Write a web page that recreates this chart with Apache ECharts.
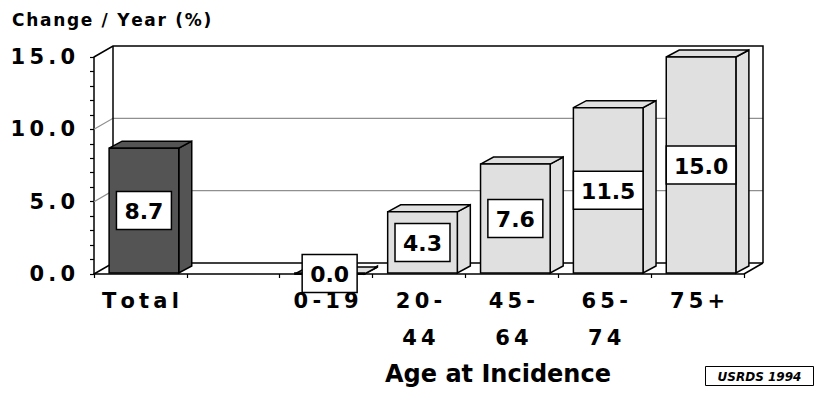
<!DOCTYPE html>
<html>
<head>
<meta charset="utf-8">
<script src="https://cdn.jsdelivr.net/npm/echarts@6/dist/echarts.min.js"></script>
<style>
  html, body { margin: 0; padding: 0; background: #ffffff; }
  #chart { width: 816px; height: 405px; }
</style>
</head>
<body>
<div id="chart"></div>
<script>
// Age groups along the floor (second slot is an intentional gap after "Total")
const categories = ['Total', '', '0-19', '20-\n44', '45-\n64', '65-\n74', '75+'];
// Annual change in incidence, percent per year
const changePerYear = [8.7, null, 0.0, 4.3, 7.6, 11.5, 15.0];
// Value axis labels and back-wall gridlines
const yTicks = [0, 5, 10, 15];
const wallGridValues = [5, 10];

const FONT = '"DejaVu Sans", "Liberation Sans", sans-serif';
const THIN = '\u2009';
const HAIR = '\u200A';
const spaced = s => s.split('\n').map(l => l.split('').join(THIN)).join('\n');

const DARK = '#545454';
const LIGHT = '#e0e0e0';
const WALL_DX = 19, WALL_DY = 11;   // depth of the back wall
const BAR_DX = 13, BAR_DY = 7;      // depth of each bar

const measureCtx = document.createElement('canvas').getContext('2d');
function textWidth(text, font) {
  measureCtx.font = font;
  return measureCtx.measureText(text).width;
}

// Back wall, left wall and floor outline with the gridlines on the walls
function renderFrame(params, api) {
  const cs = params.coordSys;
  const x0 = cs.x, x1 = cs.x + cs.width;
  const yTop = cs.y, yBot = cs.y + cs.height;
  const black = { stroke: '#000', lineWidth: 1.5, fill: null };
  const grey = { stroke: '#8f8f8f', lineWidth: 1.2, fill: null };
  const children = [];
  wallGridValues.forEach(g => {
    const y = api.coord([0, g])[1];
    children.push({ type: 'polyline', shape: { points: [[x0, y], [x0 + WALL_DX, y - WALL_DY], [x1 + WALL_DX, y - WALL_DY]] }, style: grey });
  });
  children.push(
    { type: 'polyline', shape: { points: [[x0, yTop], [x0 + WALL_DX, yTop - WALL_DY], [x1 + WALL_DX, yTop - WALL_DY], [x1 + WALL_DX, yBot - WALL_DY]] }, style: black },
    { type: 'polyline', shape: { points: [[x0 + WALL_DX, yTop - WALL_DY], [x0 + WALL_DX, yBot - WALL_DY]] }, style: black },
    { type: 'polyline', shape: { points: [[x0, yBot], [x0 + WALL_DX, yBot - WALL_DY], [x1 + WALL_DX, yBot - WALL_DY]] }, style: black },
    { type: 'polyline', shape: { points: [[x1, yBot], [x1 + WALL_DX, yBot - WALL_DY]] }, style: black }
  );
  return { type: 'group', children };
}

// One extruded bar with its value box
function renderBar(params, api) {
  const i = api.value(0), v = api.value(1);
  const top = api.coord([i, v]);
  const base = api.coord([i, 0]);
  const bw = api.size([1, 0])[0] * 0.75;
  const xL = top[0] - bw / 2 + 3.5, xR = xL + bw;
  const yT = top[1], yB = base[1] - 1;
  const fill = i === 0 ? DARK : LIGHT;
  const edge = { stroke: '#000', lineWidth: 1.5, lineJoin: 'miter' };
  const label = v.toFixed(1);
  const labelFont = 'bold 22px ' + FONT;
  const boxW = Math.min(bw, Math.max(52, textWidth(label, labelFont) + 16));
  const boxH = 38;
  const cx = (xL + xR) / 2, cy = (yT + yB) / 2;
  return {
    type: 'group',
    children: [
      { type: 'polygon', shape: { points: [[xR, yT], [xR + BAR_DX, yT - BAR_DY], [xR + BAR_DX, yB - BAR_DY], [xR, yB]] }, style: Object.assign({ fill }, edge) },
      { type: 'polygon', shape: { points: [[xL, yT], [xL + BAR_DX, yT - BAR_DY], [xR + BAR_DX, yT - BAR_DY], [xR, yT]] }, style: Object.assign({ fill }, edge) },
      { type: 'rect', shape: { x: xL, y: yT, width: bw, height: yB - yT }, style: Object.assign({ fill }, edge) },
      { type: 'rect', shape: { x: cx - boxW / 2, y: cy - boxH / 2, width: boxW, height: boxH }, style: { fill: '#fff', stroke: '#000', lineWidth: 1.5 } },
      { type: 'text', x: cx, y: cy + 1, style: { text: label, font: labelFont, fill: '#000', align: 'center', verticalAlign: 'middle' } }
    ]
  };
}

const barData = categories
  .map((c, i) => [i, changePerYear[i]])
  .filter(d => d[1] !== null);

const chart = echarts.init(document.getElementById('chart'), null, { renderer: 'svg' });
chart.setOption({
  animation: false,
  backgroundColor: '#ffffff',
  title: {
    text: 'Change / Year (%)'.split('').join(HAIR),
    left: 7,
    top: 6,
    textStyle: { fontFamily: FONT, fontWeight: 'bold', fontSize: 17, color: '#000' }
  },
  grid: { left: 94, right: 72, top: 57, bottom: 131 },
  xAxis: {
    type: 'category',
    data: categories,
    boundaryGap: true,
    name: 'Age at Incidence',
    nameLocation: 'middle',
    nameGap: 88,
    nameTextStyle: { fontFamily: FONT, fontWeight: 'bold', fontSize: 24, color: '#000', padding: [0, 0, 0, 158] },
    axisLine: { lineStyle: { color: '#000', width: 1.5 } },
    axisTick: { show: true, interval: 0, length: 4, lineStyle: { color: '#000', width: 1.2 } },
    axisLabel: {
      interval: 0,
      margin: 8,
      fontFamily: FONT,
      fontWeight: 'bold',
      fontSize: 21,
      lineHeight: 37,
      color: '#000',
      formatter: v => spaced(v)
    },
    splitLine: { show: false }
  },
  yAxis: {
    type: 'value',
    min: yTicks[0],
    max: yTicks[yTicks.length - 1],
    interval: yTicks[1] - yTicks[0],
    axisLine: { show: true, lineStyle: { color: '#000', width: 1.5 } },
    axisTick: { show: true, length: 4, lineStyle: { color: '#000', width: 1.2 } },
    minorTick: { show: true, splitNumber: 5, length: 4, lineStyle: { color: '#000', width: 1.2 } },
    axisLabel: {
      margin: 19,
      fontFamily: FONT,
      fontWeight: 'bold',
      fontSize: 21,
      color: '#000',
      formatter: v => spaced(v.toFixed(1))
    },
    splitLine: { show: false }
  },
  graphic: [
    {
      type: 'group',
      left: 705,
      top: 366,
      children: [
        { type: 'rect', shape: { x: 0, y: 0, width: 108, height: 19 }, style: { fill: '#fff', stroke: '#000', lineWidth: 1 } },
        { type: 'text', x: 54, y: 10, style: { text: 'USRDS 1994', font: 'italic bold 12px ' + FONT, fill: '#000', align: 'center', verticalAlign: 'middle' } }
      ]
    }
  ],
  series: [
    {
      type: 'custom',
      name: 'frame',
      silent: true,
      clip: false,
      z: 1,
      renderItem: renderFrame,
      data: [[0, 0]]
    },
    {
      type: 'custom',
      name: 'Change / Year',
      clip: false,
      z: 3,
      renderItem: renderBar,
      encode: { x: 0, y: 1 },
      data: barData
    }
  ]
});
</script>
</body>
</html>
